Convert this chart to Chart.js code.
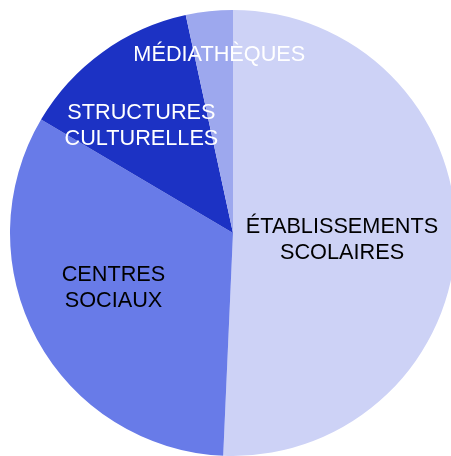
<!DOCTYPE html>
<html lang="fr">
<head>
    <meta charset="UTF-8">
    <title>Répartition des publics</title>
    <script src="https://cdn.jsdelivr.net/npm/chart.js"></script>
    <style>
        html, body { margin: 0; padding: 0; background: #fff; overflow: hidden; }
        #wrap { position: absolute; left: 0; top: 0; width: 466px; height: 466px; }
    </style>
</head>
<body>
    <div id="wrap"><canvas id="pieChart" width="466" height="466"></canvas></div>
    <script>
        // categories and shares (%)
        const categories = [
            ['ÉTABLISSEMENTS', 'SCOLAIRES'],
            ['CENTRES', 'SOCIAUX'],
            ['STRUCTURES', 'CULTURELLES'],
            ['MÉDIATHÈQUES']
        ];
        const shares = [50.7, 32.8, 13.1, 3.4];
        const sliceColors = ['#cdd2f6', '#687be8', '#1c32c4', '#9da8ee'];
        const labelColors = ['#000000', '#000000', '#ffffff', '#ffffff'];
        // how far out along each slice the label sits (fraction of radius)
        const labelRadius = [0.49, 0.59, 0.63, 0.80];
        const labelShift = [0.045, 0.065, -0.085, 0.03]; // small angle tweak (rad)

        const sliceLabels = {
            id: 'sliceLabels',
            afterDatasetsDraw(chart) {
                const ctx = chart.ctx;
                const meta = chart.getDatasetMeta(0);
                ctx.save();
                ctx.font = '21.7px "Liberation Sans", Arial, sans-serif';
                ctx.textAlign = 'center';
                ctx.textBaseline = 'middle';
                meta.data.forEach((arc, i) => {
                    const mid = (arc.startAngle + arc.endAngle) / 2 + labelShift[i];
                    const r = arc.outerRadius * labelRadius[i];
                    const x = arc.x + Math.cos(mid) * r;
                    const y = arc.y + Math.sin(mid) * r;
                    const lines = categories[i];
                    const lh = 26;
                    ctx.fillStyle = labelColors[i];
                    lines.forEach((line, j) => {
                        ctx.fillText(line, x, y + (j - (lines.length - 1) / 2) * lh);
                    });
                });
                ctx.restore();
            }
        };

        new Chart(document.getElementById('pieChart'), {
            type: 'pie',
            data: {
                labels: categories.map(c => c.join(' ')),
                datasets: [{
                    data: shares,
                    backgroundColor: sliceColors,
                    borderWidth: 0
                }]
            },
            options: {
                responsive: false,
                animation: false,
                layout: { padding: 10 },
                plugins: {
                    legend: { display: false },
                    tooltip: { enabled: false }
                }
            },
            plugins: [sliceLabels]
        });
    </script>
</body>
</html>
